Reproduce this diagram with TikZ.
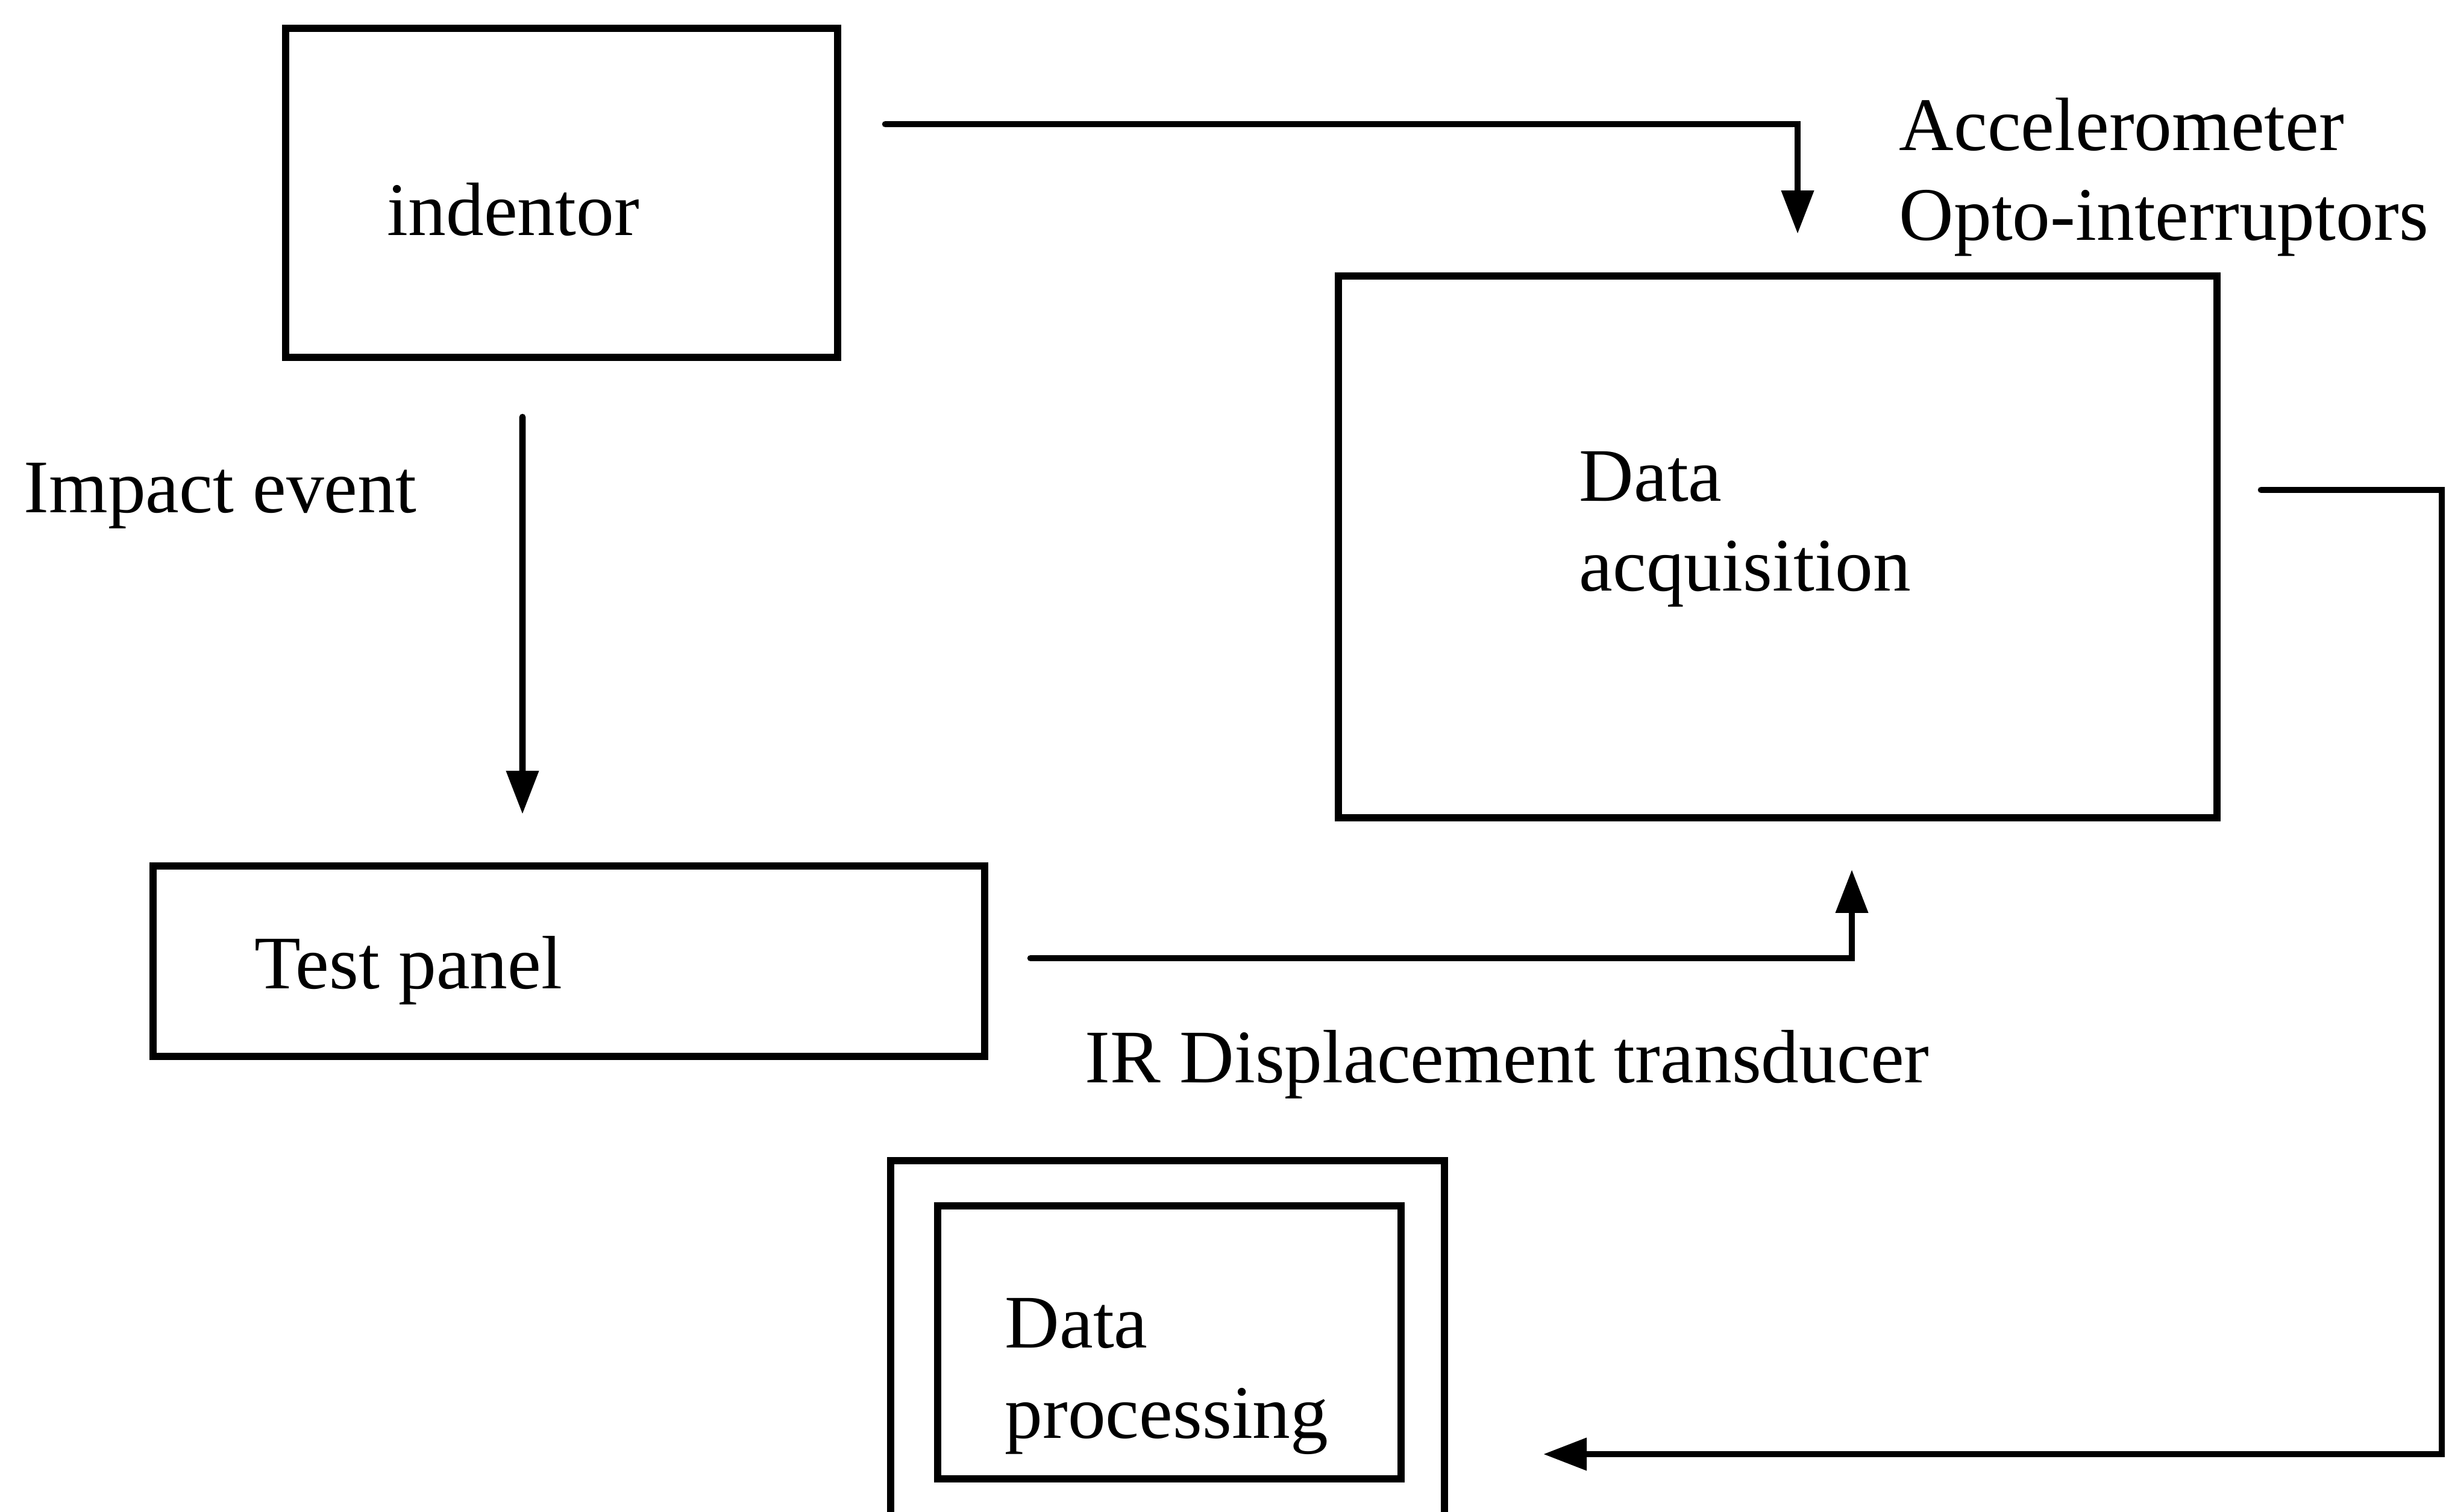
\documentclass[tikz,border=0pt]{standalone}
\usepackage{fontspec}
\setmainfont{Liberation Serif}
\usetikzlibrary{arrows.meta,calc}
\tikzset{
  blockbox/.style={draw=black,line width=3.4pt,rectangle,inner sep=0pt},
  wire/.style={draw=black,line width=3pt,line cap=round},
  conn/.style={wire,-{Triangle[length=0.72cm,width=0.52cm]}},
  txt/.style={anchor=west,inner sep=0pt,align=left,font=\fontsize{35.7}{42.5}\selectfont}
}
\begin{document}
\begin{tikzpicture}
  \useasboundingbox (0,0) rectangle (40.59,25.08);
  \clip (0,0) rectangle (40.59,25.08);
  % blocks
  \node[blockbox,minimum width=9.16cm,minimum height=5.46cm] (indentor) at (9.32,21.88) {};
  \node[blockbox,minimum width=14.58cm,minimum height=8.99cm] (acq) at (29.50,16.005) {};
  \node[blockbox,minimum width=13.80cm,minimum height=3.16cm] (panel) at (9.44,9.13) {};
  \node[blockbox,minimum width=9.19cm,minimum height=6.82cm] (procout) at (19.375,2.41) {};
  \node[blockbox,minimum width=7.69cm,minimum height=4.53cm] (proc) at (19.405,2.805) {};
  % texts
  \node[txt] (indentortxt) at (6.42,21.60) {indentor};
  \node[txt] (acqtxt) at (26.20,16.30) {Data\\acquisition};
  \node[txt] (paneltxt) at (4.22,8.98) {Test panel};
  \node[txt] (proctxt) at (16.67,2.24) {Data\\processing};
  \node[txt] (sensors) at (31.51,22.14) {Accelerometer\\Opto-interruptors};
  \node[txt] (impact) at (0.39,16.85) {Impact event};
  \node[txt] (irdisp) at (18.00,7.42) {IR Displacement transducer};
  % connector ends
  \coordinate (s1) at ($(indentor.north east)+(0.73,-1.65)$);
  \coordinate (t1) at ($(acq.north)+(0.33,0.64)$);
  \coordinate (s2) at ($(indentor.south)+(-0.65,-0.93)$);
  \coordinate (t2) at ($(panel.north)+(-0.77,0.80)$);
  \coordinate (s3) at ($(panel.east)+(0.70,0.05)$);
  \coordinate (t3) at ($(acq.south)+(1.23,-0.80)$);
  \coordinate (s4) at ($(acq.east)+(0.67,0.945)$);
  \coordinate (c4) at (40.52,0.95);
  \coordinate (t4) at ($(proc.east)+(2.30,-1.855)$);
  % connectors
  \draw[conn] (s1) -| (t1);
  \draw[conn] (s2) -- (t2);
  \draw[conn] (s3) -| (t3);
  \draw[conn] (s4) -| (c4) -- (t4);
\end{tikzpicture}
\end{document}
